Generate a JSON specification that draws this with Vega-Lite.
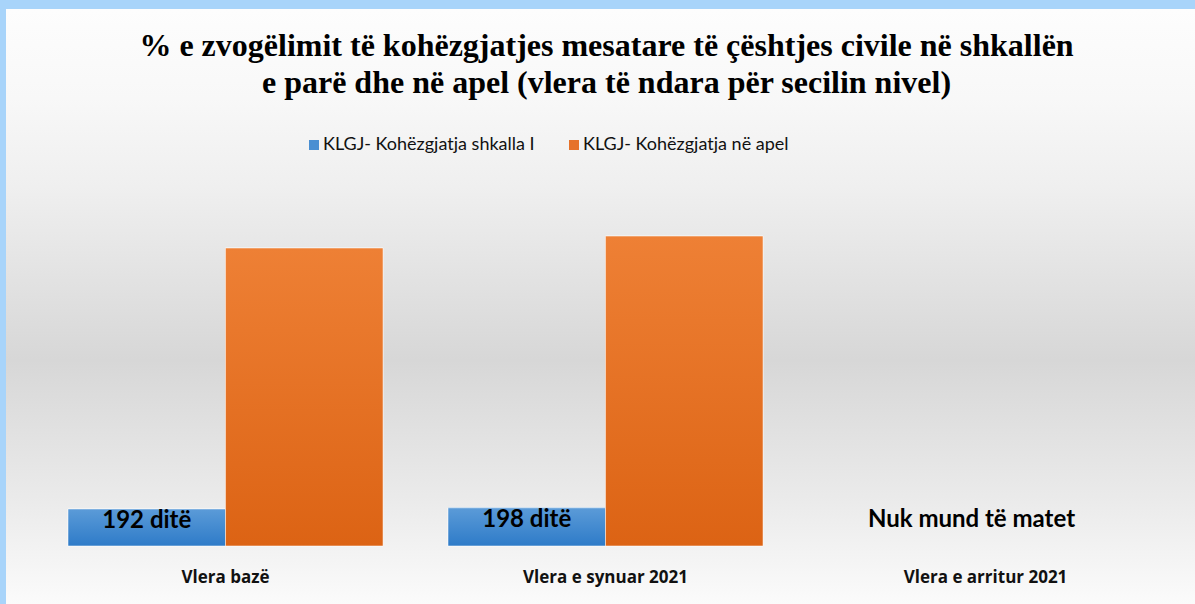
{
  "$schema": "https://vega.github.io/schema/vega-lite/v6.json",
  "autosize": "none",
  "width": 1189,
  "height": 595,
  "padding": {"left": 6, "top": 9, "right": 0, "bottom": 0},
  "background": "#a8d4fa",
  "view": {
    "stroke": null,
    "fill": {"gradient": "linear", "x1": 0, "y1": 0, "x2": 0, "y2": 1,
      "stops": [
        {"offset": 0, "color": "#fdfdfd"},
        {"offset": 0.15, "color": "#f8f8f8"},
        {"offset": 0.3, "color": "#efefef"},
        {"offset": 0.59, "color": "#d7d7d7"},
        {"offset": 0.83, "color": "#ebebeb"},
        {"offset": 1, "color": "#fbfbfb"}
      ]}
  },
  "title": {
    "text": ["% e zvogëlimit të kohëzgjatjes  mesatare të çështjes civile në shkallën", "e parë dhe në apel (vlera të ndara për secilin nivel)"],
    "font": "Liberation Serif",
    "fontSize": 32,
    "fontWeight": "bold",
    "color": "#000000",
    "lineHeight": 37,
    "anchor": "middle",
    "dx": 6,
    "offset": -91
  },
  "data": {
    "values": [
      {"cat": "Vlera bazë", "series": "KLGJ- Kohëzgjatja shkalla I", "value": 192, "label": "192 ditë"},
      {"cat": "Vlera bazë", "series": "KLGJ- Kohëzgjatja në apel", "value": 1546, "label": null},
      {"cat": "Vlera e synuar 2021", "series": "KLGJ- Kohëzgjatja shkalla I", "value": 198, "label": "198 ditë"},
      {"cat": "Vlera e synuar 2021", "series": "KLGJ- Kohëzgjatja në apel", "value": 1608, "label": null},
      {"cat": "Vlera e arritur 2021", "series": "KLGJ- Kohëzgjatja shkalla I", "value": null, "label": null, "note": "Nuk mund të matet"},
      {"cat": "Vlera e arritur 2021", "series": "KLGJ- Kohëzgjatja në apel", "value": null, "label": null}
    ]
  },
  "encoding": {
    "x": {
      "field": "cat", "type": "nominal", "sort": null,
      "scale": {"domain": ["Vlera bazë", "Vlera e synuar 2021", "Vlera e arritur 2021"], "paddingInner": 0.171, "paddingOuter": 0.15, "align": 0.544},
      "axis": {"title": null, "domain": false, "ticks": false, "labelAngle": 0, "labelFont": "Open Sans", "labelFontSize": 17, "labelFontWeight": "bold", "labelColor": "#111111", "labelPadding": 0, "offset": -27, "labelBaseline": "middle", "labelLimit": 400}
    }
  },
  "layer": [
    {
      "mark": {"type": "bar", "stroke": "#ffffff", "strokeOpacity": 0.5, "strokeWidth": 1},
      "encoding": {
        "xOffset": {"field": "series", "type": "nominal", "sort": null, "scale": {"domain": ["KLGJ- Kohëzgjatja shkalla I", "KLGJ- Kohëzgjatja në apel"], "paddingInner": 0, "paddingOuter": 0}},
        "y": {"field": "value", "type": "quantitative", "scale": {"domain": [-301, 2786], "nice": false, "zero": false}, "axis": null},
        "color": {
          "field": "series", "type": "nominal",
          "scale": {"domain": ["KLGJ- Kohëzgjatja shkalla I", "KLGJ- Kohëzgjatja në apel"], "range": ["#4a8fd2", "#e6722a"]},
          "legend": {
            "title": null, "orient": "none", "direction": "horizontal", "legendX": 299, "legendY": 127,
            "symbolType": "square", "symbolSize": 100, "symbolStrokeWidth": 0,
            "labelFont": "Lato", "labelFontSize": 18, "labelColor": "#111111", "labelLimit": 400,
            "labelOffset": 0, "columnPadding": 30, "padding": 0
          }
        }
      }
    },
    {
      "transform": [{"filter": "datum.series === 'KLGJ- Kohëzgjatja shkalla I'"}],
      "mark": {"type": "bar", "stroke": "#ffffff", "strokeOpacity": 0.5, "strokeWidth": 1,
        "fill": {"gradient": "linear", "x1": 0, "y1": 0, "x2": 0, "y2": 1, "stops": [{"offset": 0, "color": "#5b9bd8"}, {"offset": 1, "color": "#2e7bc8"}]}},
      "encoding": {
        "xOffset": {"field": "series", "type": "nominal", "sort": null},
        "y": {"field": "value", "type": "quantitative"}
      }
    },
    {
      "transform": [{"filter": "datum.series === 'KLGJ- Kohëzgjatja në apel'"}],
      "mark": {"type": "bar", "stroke": "#ffffff", "strokeOpacity": 0.5, "strokeWidth": 1,
        "fill": {"gradient": "linear", "x1": 0, "y1": 0, "x2": 0, "y2": 1, "stops": [{"offset": 0, "color": "#ee8035"}, {"offset": 1, "color": "#dc6314"}]}},
      "encoding": {
        "xOffset": {"field": "series", "type": "nominal", "sort": null},
        "y": {"field": "value", "type": "quantitative"}
      }
    },
    {
      "transform": [{"filter": "datum.label != null"}],
      "mark": {"type": "text", "font": "Lato", "fontSize": 24, "fontWeight": "bold", "color": "#000000", "baseline": "middle", "dy": 12},
      "encoding": {
        "xOffset": {"field": "series", "type": "nominal", "sort": null},
        "y": {"field": "value", "type": "quantitative"},
        "text": {"field": "label"}
      }
    },
    {
      "transform": [{"filter": "datum.note != null"}],
      "mark": {"type": "text", "font": "Lato", "fontSize": 24, "fontWeight": "bold", "color": "#000000", "baseline": "middle", "dy": -26, "dx": -14},
      "encoding": {
        "y": {"datum": 0, "type": "quantitative"},
        "text": {"field": "note"}
      }
    }
  ]
}
